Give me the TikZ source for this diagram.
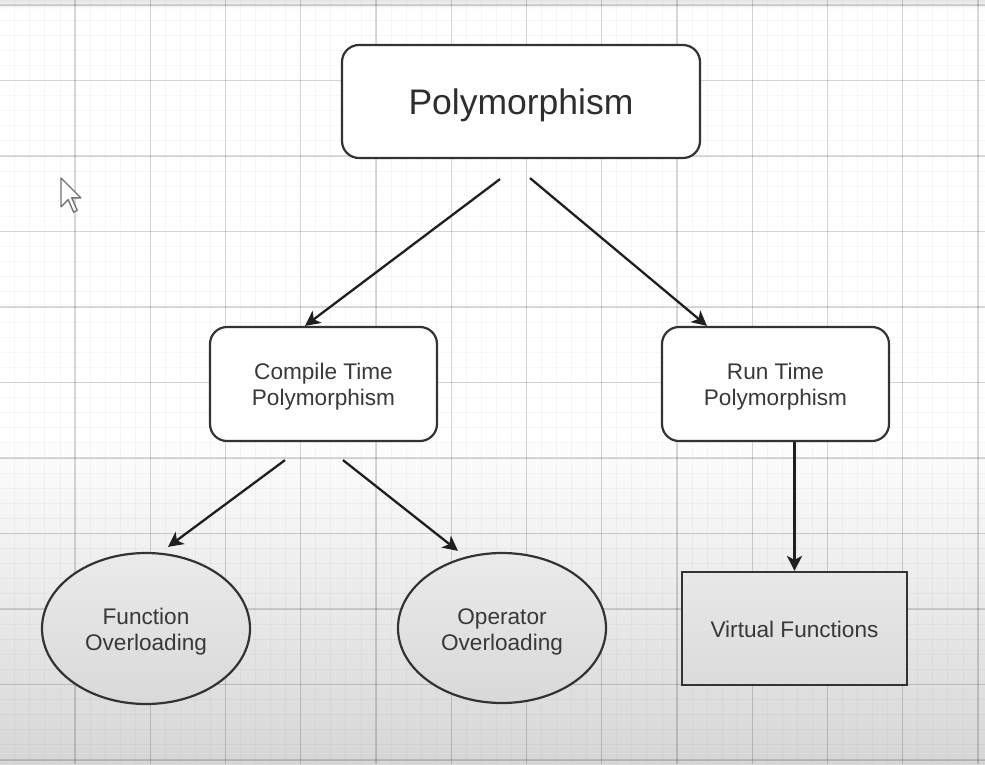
\documentclass[tikz,border=0pt]{standalone}
\usepackage{fontspec}
\setmainfont{Liberation Sans}
\usetikzlibrary{arrows.meta,shapes.geometric}
\definecolor{txt}{HTML}{383838}
\definecolor{edge}{HTML}{333333}
\newcommand{\lbl}[2][-2pt]{\raisebox{#1}[\height][\depth]{\begin{tabular}{@{}c@{}}#2\end{tabular}}}
\begin{document}
\begin{tikzpicture}[x=1pt,y=-1pt,
  basefont/.style={font=\fontsize{22.6}{26}\selectfont},
  rbox/.style={draw=edge,line width=2.2pt,fill=white,rounded corners=17pt,inner sep=0pt,text=txt,basefont},
  ovalnode/.style={ellipse,draw=edge,line width=2.2pt,inner sep=0pt,text=txt,basefont,top color=black!8,bottom color=black!15,minimum width=208pt,minimum height=151pt},
  sqbox/.style={rectangle,draw=edge,line width=2.2pt,inner sep=0pt,text=txt,basefont,top color=black!9,bottom color=black!14,minimum width=225pt,minimum height=113pt},
  arr/.style={-{Stealth[length=15pt,width=15pt,inset=4pt]},line width=2.3pt,draw=black!88},
  minorline/.style={draw=black,opacity=0.03,line width=0.9pt},
  majorline/.style={draw=black,opacity=0.14,line width=1.4pt},
  cursorshape/.style={draw=black!55,fill=white,line width=1.4pt,line join=round}]
\useasboundingbox (0,0) rectangle (985,764);
\begin{scope}
\clip (0,0) rectangle (985,764);
\fill[white] (0,0) rectangle (985,430);
\shade[top color=white,bottom color=black!16] (0,430) rectangle (985,764);
\shade[top color=black!10,bottom color=white] (0,0) rectangle (985,9);
\foreach \j in {-5,...,61} \draw[minorline] ({75+15.05*\j},0) -- ({75+15.05*\j},764);
\foreach \j in {0,...,51} \draw[minorline] (0,{5+15.1*\j}) -- (985,{5+15.1*\j});
\foreach \i in {-1,...,13} \draw[majorline] ({75+75.25*\i},0) -- ({75+75.25*\i},764);
\foreach \i in {0,...,10} \draw[majorline] (0,{5+75.5*\i}) -- (985,{5+75.5*\i});
\end{scope}

\node[rbox,minimum width=358pt,minimum height=113pt,font=\fontsize{35.5}{42}\selectfont,text=black!82] (poly) at (521,101.5) {\lbl[-5pt]{Polymorphism}};
\node[rbox,minimum width=227pt,minimum height=114pt] (comp) at (323.5,384) {\lbl[-3pt]{Compile Time\\Polymorphism}};
\node[rbox,minimum width=227pt,minimum height=114pt] (run) at (775.5,384) {\lbl[-3pt]{Run Time\\Polymorphism}};
\node[ovalnode] (func) at (146,628.5) {\lbl[-4pt]{Function\\Overloading}};
\node[ovalnode,minimum height=150pt] (oper) at (502,628) {\lbl[-4pt]{Operator\\Overloading}};
\node[sqbox] (virt) at (794.5,628.5) {\lbl[-4pt]{Virtual Functions}};

\draw[arr] ([shift={(-21pt,-20pt)}]poly.south) -- ([xshift=-18.5pt]comp.north);
\draw[arr] ([shift={(9pt,-19pt)}]poly.south) -- ([xshift=-68.5pt]run.north);
\draw[arr] ([shift={(-38.5pt,-18pt)}]comp.south) -- ([shift={(22pt,5pt)}]func.north);
\draw[arr] ([shift={(19.5pt,-18pt)}]comp.south) -- ([shift={(-44pt,1pt)}]oper.north);
\draw[arr] (virt.north |- run.south) -- (virt.north);

\draw[cursorshape] (61,178) -- (61,206.8) -- (68.2,199.6) -- (73.6,212.2) -- (77.2,210.4) -- (71.8,197.8) -- (80.8,197.8) -- cycle;
\end{tikzpicture}
\end{document}
